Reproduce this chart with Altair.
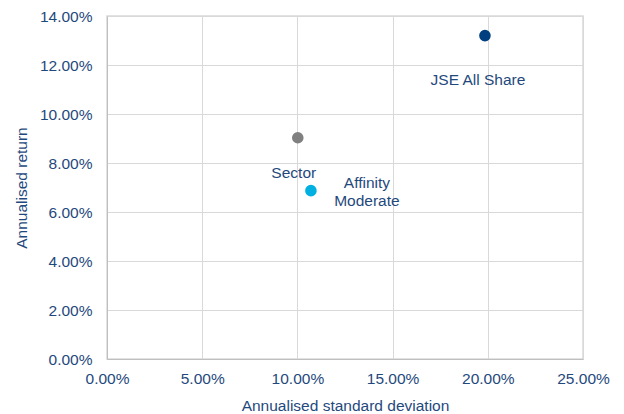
import altair as alt
import pandas as pd

names = ["JSE All Share", "Sector", "Affinity Moderate"]
std_dev = [0.1985, 0.1002, 0.1071]
returns = [0.132, 0.0903, 0.0687]
colors = ["#003F7F", "#808080", "#00B0E0"]

df = pd.DataFrame({"name": names, "sd": std_dev, "ret": returns, "color": colors})

TXT = "#1F497D"
FONT = "Liberation Sans"
FS = 15.5

x = alt.X("sd:Q", scale=alt.Scale(domain=[0, 0.25], nice=False),
          axis=alt.Axis(format=".2%", values=[0, 0.05, 0.10, 0.15, 0.20, 0.25],
                        title="Annualised standard deviation", titlePadding=12,
                        labelFlush=False, labelPadding=12))
y = alt.Y("ret:Q", scale=alt.Scale(domain=[0, 0.14], nice=False),
          axis=alt.Axis(format=".2%", values=[0, 0.02, 0.04, 0.06, 0.08, 0.10, 0.12, 0.14],
                        title="Annualised return", titlePadding=10,
                        labelFlush=False, labelPadding=15))

pts = alt.Chart(df).mark_circle(size=135, opacity=1).encode(
    x=x, y=y, color=alt.Color("color:N", scale=None)
)

def label(name, text, dx, dy):
    d = df[df["name"] == name].assign(label=text)
    return alt.Chart(d).mark_text(
        dx=dx, dy=dy, font=FONT, fontSize=FS, color=TXT, lineBreak="\n",
        lineHeight=18, align="center"
    ).encode(x="sd:Q", y="ret:Q", text="label:N")

chart = alt.layer(
    pts,
    label("JSE All Share", "JSE All Share", -7, 44),
    label("Sector", "Sector", -4, 35),
    label("Affinity Moderate", "Affinity\nModerate", 56, -8),
).properties(
    width=476, height=343,
    autosize=alt.AutoSizeParams(type="none"),
    padding={"left": 99, "top": 8, "right": 33, "bottom": 55},
).configure_view(
    stroke="#D9D9D9", strokeWidth=1.5
).configure_axis(
    labelFont=FONT, titleFont=FONT, labelFontSize=FS, titleFontSize=FS,
    labelColor=TXT, titleColor=TXT, titleFontWeight="normal",
    gridColor="#D9D9D9", domainColor="#BFBFBF", ticks=False
)

chart.save("out.html", embed_options={"renderer": "svg", "actions": False})
